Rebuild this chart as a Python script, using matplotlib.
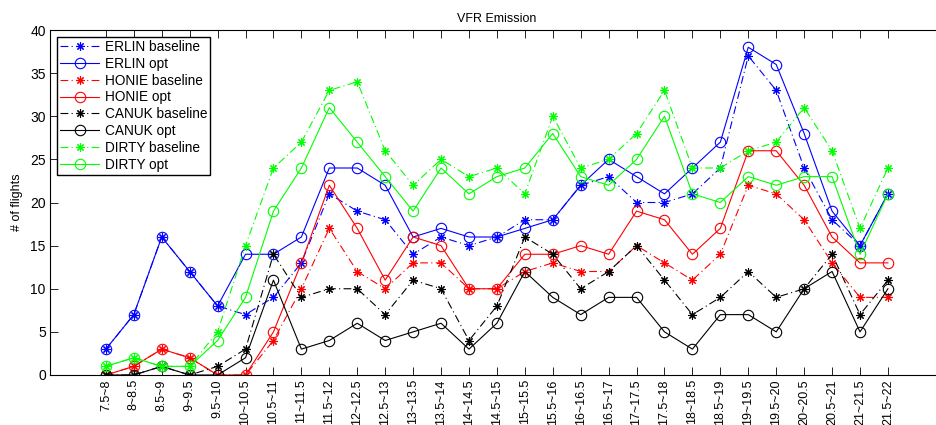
import matplotlib
matplotlib.use("Agg")
import matplotlib.pyplot as plt
import numpy as np

plt.rcParams['font.family'] = ['Liberation Sans', 'DejaVu Sans']

categories = ["7.5~8", "8~8.5", "8.5~9", "9~9.5", "9.5~10", "10~10.5", "10.5~11",
              "11~11.5", "11.5~12", "12~12.5", "12.5~13", "13~13.5", "13.5~14",
              "14~14.5", "14.5~15", "15~15.5", "15.5~16", "16~16.5", "16.5~17",
              "17~17.5", "17.5~18", "18~18.5", "18.5~19", "19~19.5", "19.5~20",
              "20~20.5", "20.5~21", "21~21.5", "21.5~22"]

erlin_baseline = [3, 7, 16, 12, 8, 7, 9, 13, 21, 19, 18, 14, 16, 15, 16, 18, 18, 22, 23,
                  20, 20, 21, 24, 37, 33, 24, 18, 15, 21]
erlin_opt = [3, 7, 16, 12, 8, 14, 14, 16, 24, 24, 22, 16, 17, 16, 16, 17, 18, 22, 25,
             23, 21, 24, 27, 38, 36, 28, 19, 15, 21]
honie_baseline = [0, 1, 3, 2, 0, 0, 4, 10, 17, 12, 10, 13, 13, 10, 10, 12, 13, 12, 12,
                  15, 13, 11, 14, 22, 21, 18, 13, 9, 9]
honie_opt = [0, 1, 3, 2, 0, 0, 5, 13, 22, 17, 11, 16, 15, 10, 10, 14, 14, 15, 14,
             19, 18, 14, 17, 26, 26, 22, 16, 13, 13]
canuk_baseline = [0, 0, 1, 0, 1, 3, 14, 9, 10, 10, 7, 11, 10, 4, 8, 16, 14, 10, 12,
                  15, 11, 7, 9, 12, 9, 10, 14, 7, 11]
canuk_opt = [0, 0, 1, 0, 0, 2, 11, 3, 4, 6, 4, 5, 6, 3, 6, 12, 9, 7, 9,
             9, 5, 3, 7, 7, 5, 10, 12, 5, 10]
dirty_baseline = [1, 2, 1, 1, 5, 15, 24, 27, 33, 34, 26, 22, 25, 23, 24, 21, 30, 24, 25,
                  28, 33, 24, 24, 26, 27, 31, 26, 17, 24]
dirty_opt = [1, 2, 1, 1, 4, 9, 19, 24, 31, 27, 23, 19, 24, 21, 23, 24, 28, 23, 22,
             25, 30, 21, 20, 23, 22, 23, 23, 14, 21]

series = [
    ("ERLIN baseline", erlin_baseline, (0, 0, 1), 'base'),
    ("ERLIN opt", erlin_opt, (0, 0, 1), 'opt'),
    ("HONIE baseline", honie_baseline, (1, 0, 0), 'base'),
    ("HONIE opt", honie_opt, (1, 0, 0), 'opt'),
    ("CANUK baseline", canuk_baseline, (0, 0, 0), 'base'),
    ("CANUK opt", canuk_opt, (0, 0, 0), 'opt'),
    ("DIRTY baseline", dirty_baseline, (0, 1, 0), 'base'),
    ("DIRTY opt", dirty_opt, (0, 1, 0), 'opt'),
]

fig = plt.figure(figsize=(9.37, 4.25), dpi=100)
ax = fig.add_axes([50 / 937, 50 / 425, 893.8 / 937, 345 / 425])

x = np.arange(1, len(categories) + 1)
lw = 0.8
for label, vals, col, kind in series:
    if kind == 'opt':
        ax.plot(x, vals, color=col, linestyle='-', linewidth=lw, marker='o',
                markersize=7.5, markerfacecolor='none', markeredgecolor=col,
                markeredgewidth=0.8, label=label)
    else:
        ax.plot(x, vals, color=col, linestyle=(0, (7, 3, 1, 3)), linewidth=lw,
                marker=(8, 2, 0), markersize=6, markeredgecolor=col,
                markeredgewidth=0.8, label=label)

ax.set_xlim(-1, 31)
ax.set_ylim(0, 40)
ax.set_xticks(x)
ax.set_xticklabels(categories, rotation=90, fontsize=9)
ax.set_yticks(np.arange(0, 41, 5))
ax.tick_params(axis='y', labelsize=10, pad=3)
ax.tick_params(axis='x', pad=3)
ax.tick_params(direction='in', length=5.5, width=0.6, top=True, right=True)
for sp in ax.spines.values():
    sp.set_linewidth(0.8)
ax.set_title("VFR Emission", fontsize=9, pad=6)
ax.set_ylabel("# of flights", fontsize=9, labelpad=5)

leg = ax.legend(loc='upper left', fontsize=9.8, frameon=True, fancybox=False,
                edgecolor='black', framealpha=1, handlelength=2.9,
                borderaxespad=0.5, labelspacing=0.21, handletextpad=0.4,
                borderpad=0.22)
leg.get_frame().set_linewidth(1.0)

fig.savefig("out.png", dpi=100, facecolor='white')
